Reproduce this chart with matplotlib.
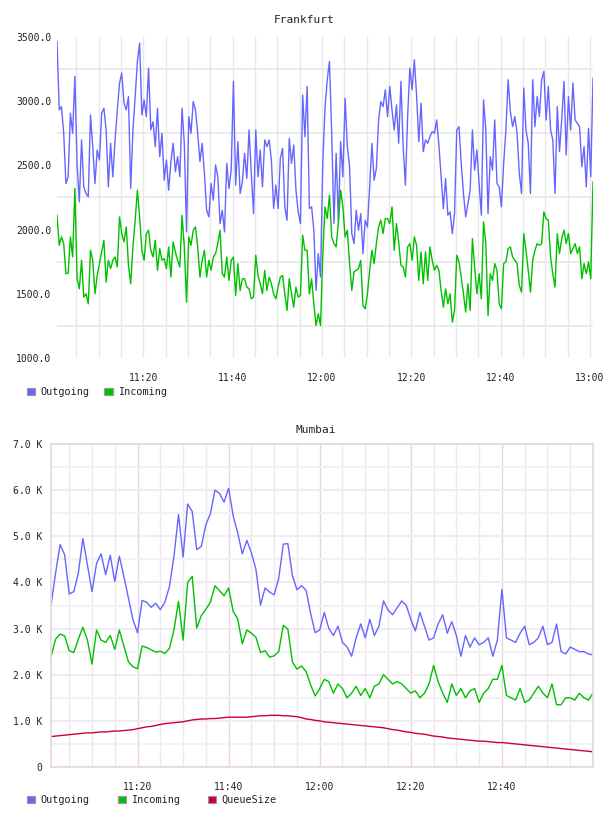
import numpy as np
import matplotlib
matplotlib.use("Agg")
import matplotlib.pyplot as plt
from matplotlib.patches import Patch

plt.rcParams['font.family'] = ['DejaVu Sans Mono']

# ------------------------------------------------------------------
# Data (minutes after 11:00)
# ------------------------------------------------------------------
fra_start, fra_step = 0.7, 0.5
fra_outgoing = [
    3466, 2932, 2958, 2750, 2359, 2411, 2906, 2750, 3193, 2503,
    2216, 2698, 2333, 2281, 2255, 2893, 2646, 2359, 2620, 2542,
    2906, 2945, 2776, 2333, 2672, 2411, 2698, 2932, 3141, 3219,
    2984, 2932, 3036, 2320, 2776, 3036, 3310, 3453, 2893, 3010,
    2880, 3258, 2776, 2841, 2646, 2945, 2568, 2750, 2385, 2542,
    2307, 2529, 2672, 2451, 2568, 2411, 2945, 2672, 1982, 2880,
    2750, 2997, 2932, 2750, 2529, 2672, 2438, 2151, 2099, 2359,
    2229, 2503, 2411, 2047, 2151, 1982, 2516, 2320, 2463, 3154,
    2346, 2685, 2281, 2372, 2594, 2398, 2776, 2438, 2125, 2776,
    2411, 2620, 2333, 2698, 2646, 2698, 2542, 2164, 2346, 2164,
    2555, 2633, 2177, 2073, 2711, 2516, 2659, 2307, 2138, 2047,
    3049, 2724, 3115, 2164, 2177, 1995, 1526, 1813, 1630, 2516,
    2945, 3167, 3310, 2750, 2047, 2594, 2060, 2685, 2411, 3023,
    2646, 2490, 1969, 1891, 2151, 1995, 2125, 1813, 2073, 2021,
    2333, 2672, 2385, 2477, 2854, 2997, 2958, 3089, 2880, 3115,
    2932, 2776, 2971, 2672, 3154, 2646, 2346, 2880, 3258, 3089,
    3323, 3049, 2685, 2984, 2607, 2698, 2672, 2724, 2763, 2750,
    2854, 2659, 2411, 2164, 2398, 2112, 2138, 1969, 2125, 2776,
    2802, 2516, 2281, 2099, 2203, 2307, 2776, 2463, 2620, 2359,
    2112, 3010, 2776, 2125, 2568, 2463, 2854, 2359, 2333, 2177,
    2516, 2776, 3167, 2919, 2802, 2880, 2750, 2438, 2281, 3102,
    2776, 2672, 2281, 3167, 2802, 3036, 2880, 3167, 3232, 2854,
    3115, 2776, 2698, 2281, 2958, 2607, 2854, 3154, 2581, 3036,
    2776, 3141, 2854, 2828, 2802, 2490, 2646, 2333, 2789, 2411,
    3180,
]
fra_incoming = [
    2112, 1878, 1943, 1891, 1656, 1661, 1943, 1787, 2320, 1617,
    1539, 1761, 1474, 1500, 1422, 1839, 1761, 1500, 1643, 1735,
    1826, 1917, 1591, 1761, 1696, 1761, 1787, 1709, 2099, 1969,
    1904, 2021, 1722, 1578, 1865, 2073, 2307, 2099, 1839, 1761,
    1969, 1995, 1839, 1787, 1917, 1683, 1852, 1761, 1774, 1696,
    1865, 1630, 1904, 1826, 1761, 1709, 2112, 1865, 1435, 1943,
    1878, 1995, 2021, 1865, 1630, 1761, 1839, 1630, 1761, 1683,
    1787, 1813, 1891, 1995, 1656, 1630, 1787, 1604, 1761, 1787,
    1487, 1735, 1526, 1617, 1617, 1552, 1539, 1461, 1474, 1800,
    1643, 1578, 1500, 1683, 1526, 1630, 1578, 1500, 1461, 1552,
    1630, 1643, 1500, 1370, 1617, 1500, 1396, 1552, 1474, 1487,
    1956, 1839, 1839, 1500, 1617, 1422, 1253, 1344, 1253, 1800,
    2177, 2086, 2268, 1943, 1891, 1865, 2060, 2307, 2177, 1943,
    1995, 1735, 1526, 1670, 1683, 1696, 1761, 1409, 1383, 1500,
    1683, 1839, 1735, 1891, 2021, 2073, 1969, 2086, 2086, 2047,
    2177, 1839, 2047, 1904, 1722, 1709, 1630, 1865, 1891, 1761,
    1943, 1878, 1604, 1826, 1578, 1826, 1604, 1865, 1761, 1683,
    1722, 1683, 1526, 1396, 1539, 1422, 1500, 1279, 1370, 1800,
    1748, 1630, 1500, 1357, 1578, 1370, 1930, 1709, 1500, 1656,
    1461, 2060, 1891, 1331, 1656, 1604, 1735, 1683, 1422, 1383,
    1735, 1748, 1852, 1865, 1787, 1761, 1735, 1565, 1513, 1969,
    1839, 1683, 1513, 1761, 1839, 1891, 1878, 1891, 2138, 2086,
    2073, 1787, 1656, 1552, 1969, 1813, 1930, 1995, 1891, 1969,
    1813, 1852, 1891, 1813, 1865, 1617, 1735, 1656, 1748, 1617,
    2372,
]

mum_start, mum_step = 1.0, 1.0
mum_outgoing = [
    3500, 4200, 4820, 4600, 3750, 3800, 4200, 4950, 4380, 3800,
    4410, 4620, 4170, 4590, 4020, 4570, 4130, 3660, 3190, 2910,
    3610, 3570, 3460, 3550, 3410, 3570, 3910, 4570, 5470, 4550,
    5700, 5540, 4710, 4780, 5250, 5490, 6000, 5930, 5740, 6040,
    5440, 5070, 4620, 4910, 4640, 4280, 3510, 3880, 3790, 3730,
    4090, 4830, 4840, 4150, 3840, 3930, 3830, 3330, 2910, 2970,
    3350, 3000, 2850, 3050, 2700, 2600, 2400, 2800, 3100, 2800,
    3200, 2850, 3050, 3600, 3400, 3300, 3450, 3600, 3500, 3200,
    2950, 3350, 3050, 2750, 2800, 3100, 3300, 2900, 3150, 2850,
    2400, 2850, 2600, 2800, 2650, 2700, 2800, 2400, 2750, 3850,
    2800, 2750, 2700, 2900, 3050, 2650, 2700, 2800, 3050, 2650,
    2700, 3100, 2500, 2450, 2600, 2550, 2500, 2500, 2450, 2430,
]
mum_incoming = [
    2390, 2770, 2880, 2840, 2520, 2480, 2770, 3030, 2750, 2230,
    2970, 2750, 2700, 2850, 2550, 2970, 2620, 2280, 2170, 2130,
    2620, 2590, 2540, 2490, 2510, 2460, 2570, 2970, 3590, 2750,
    4000, 4130, 3010, 3280, 3420, 3570, 3930, 3820, 3710, 3880,
    3370, 3210, 2670, 2970, 2900, 2810, 2480, 2520, 2380, 2410,
    2500, 3070, 2990, 2280, 2120, 2190, 2070, 1780, 1540, 1700,
    1900, 1850, 1600, 1800, 1700, 1500, 1600, 1750, 1550, 1700,
    1500, 1750, 1800, 2000, 1900, 1800, 1850, 1800, 1700, 1600,
    1650, 1500, 1600, 1800, 2200, 1850, 1600, 1400, 1800, 1550,
    1700, 1500, 1650, 1700, 1400, 1600, 1700, 1900, 1900, 2200,
    1550, 1500, 1450, 1700, 1400, 1450, 1600, 1750, 1600, 1500,
    1800, 1350, 1350, 1500, 1500, 1450, 1600, 1500, 1450, 1600,
]
mum_queue = [
    660, 670, 680, 690, 700, 710, 720, 730, 740, 740,
    750, 760, 760, 770, 780, 780, 790, 800, 810, 830,
    850, 870, 880, 900, 920, 940, 950, 960, 970, 980,
    1000, 1020, 1030, 1040, 1040, 1050, 1050, 1060, 1070, 1080,
    1080, 1080, 1080, 1080, 1090, 1100, 1110, 1110, 1120, 1120,
    1120, 1110, 1110, 1100, 1090, 1070, 1040, 1030, 1010, 1000,
    980, 970, 960, 950, 940, 930, 920, 910, 900, 890,
    880, 870, 860, 850, 830, 810, 800, 780, 760, 750,
    730, 720, 710, 690, 670, 660, 650, 630, 620, 610,
    600, 590, 580, 570, 560, 560, 550, 540, 530, 530,
    520, 510, 500, 490, 480, 470, 460, 450, 440, 430,
    420, 410, 400, 390, 380, 370, 360, 350, 340, 330,
]

time_ticks = [20, 40, 60, 80, 100, 120]
time_labels = ['11:20', '11:40', '12:00', '12:20', '12:40', '13:00']

C_OUT = '#6666ff'
C_IN = '#00c000'
C_Q = '#cc0033'
TXT = '#222222'

fra_t = fra_start + fra_step * np.arange(len(fra_outgoing))
mum_t = mum_start + mum_step * np.arange(len(mum_outgoing))

fig = plt.figure(figsize=(6.08, 8.16), dpi=100)
W, H = 608, 816

def px_axes(x0, y0, x1, y1):
    return fig.add_axes([x0 / W, 1 - y1 / H, (x1 - x0) / W, (y1 - y0) / H])

# ====================================================================
# Frankfurt
# ====================================================================
ax1 = px_axes(57, 37, 593, 358)
ax1.plot(fra_t, fra_outgoing, color=C_OUT, lw=1.0)
ax1.plot(fra_t, fra_incoming, color=C_IN, lw=1.0)
ax1.set_xlim(fra_t[0], fra_t[-1])
ax1.set_ylim(1000, 3500)
ax1.set_yticks(np.arange(1000, 3501, 500))
ax1.set_yticklabels([f'{v:.1f}' for v in np.arange(1000, 3501, 500)])
ax1.set_yticks(np.arange(1250, 3500, 500), minor=True)
ax1.set_xticks(time_ticks)
ax1.set_xticklabels(time_labels)
ax1.set_xticks(np.arange(5, 121, 5), minor=True)
ax1.grid(which='minor', axis='x', color='#e8e8e8', lw=1.0)
ax1.grid(which='major', axis='x', color='#e8e8e8', lw=1.0)
ax1.grid(which='minor', axis='y', color='#e8e8e8', lw=1.2)
ax1.set_axisbelow(True)
for s in ax1.spines.values():
    s.set_visible(False)
ax1.tick_params(which='both', length=0, labelsize=7, colors=TXT)
ax1.tick_params(axis='x', pad=11)
ax1.tick_params(axis='y', pad=4)
fig.text(304 / W, 1 - 20 / H, 'Frankfurt', ha='center', va='center',
         fontsize=8, color=TXT)

handles = [Patch(facecolor=C_OUT, edgecolor='#999999', lw=0.8, label='Outgoing'),
           Patch(facecolor=C_IN, edgecolor='#999999', lw=0.8, label='Incoming')]
fig.legend(handles=handles, loc='center left', bbox_to_anchor=(22 / W, 1 - 392 / H),
           ncol=2, frameon=False, fontsize=7.3, handlelength=0.8, handleheight=0.8,
           handletextpad=0.5, columnspacing=1.5, borderpad=0, labelcolor=TXT)

# ====================================================================
# Mumbai
# ====================================================================
ax2 = px_axes(51, 444, 593, 767)
ax2.plot(mum_t, mum_outgoing, color=C_OUT, lw=1.0)
ax2.plot(mum_t, mum_incoming, color=C_IN, lw=1.0)
ax2.plot(mum_t, mum_queue, color=C_Q, lw=1.0)
ax2.set_xlim(mum_t[0], mum_t[-1])
ax2.set_ylim(0, 7000)
ax2.set_yticks(np.arange(0, 7001, 1000))
ax2.set_yticklabels(['0'] + [f'{v / 1000:.1f} K' for v in np.arange(1000, 7001, 1000)])
ax2.set_yticks(np.arange(500, 7000, 1000), minor=True)
ax2.set_xticks(time_ticks[:-1])
ax2.set_xticklabels(time_labels[:-1])
ax2.set_xticks(np.arange(5, 120, 5), minor=True)
ax2.grid(which='major', axis='x', color='#e6d4e6', lw=1.0)
ax2.grid(which='minor', axis='x', color='#eee9ee', lw=1.0)
ax2.grid(which='major', axis='y', color='#f3e9f3', lw=1.5)
ax2.grid(which='minor', axis='y', color='#f2f2f2', lw=1.5)
ax2.set_axisbelow(True)
for s in ax2.spines.values():
    s.set_color('#e6d4e6')
    s.set_linewidth(1.2)
ax2.tick_params(which='both', length=0, labelsize=7, colors=TXT)
ax2.tick_params(axis='x', pad=11)
ax2.tick_params(axis='y', pad=6)
fig.text(316 / W, 1 - 430 / H, 'Mumbai', ha='center', va='center',
         fontsize=8, color=TXT)

handles = [Patch(facecolor=C_OUT, edgecolor='#999999', lw=0.8, label='Outgoing'),
           Patch(facecolor=C_IN, edgecolor='#999999', lw=0.8, label='Incoming'),
           Patch(facecolor=C_Q, edgecolor='#999999', lw=0.8, label='QueueSize')]
fig.legend(handles=handles, loc='center left', bbox_to_anchor=(22 / W, 1 - 800 / H),
           ncol=3, frameon=False, fontsize=7.3, handlelength=0.8, handleheight=0.8,
           handletextpad=0.5, columnspacing=2.8, borderpad=0, labelcolor=TXT)

fig.savefig('out.png', dpi=100)
